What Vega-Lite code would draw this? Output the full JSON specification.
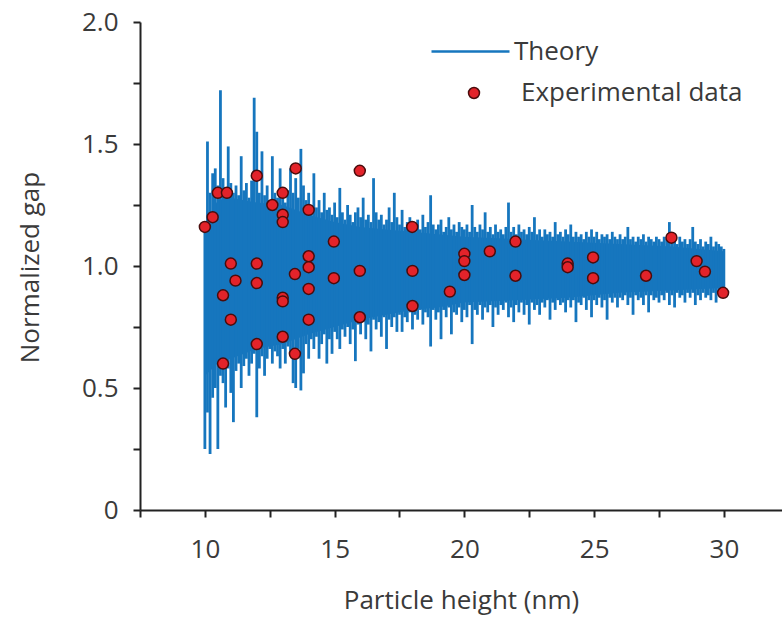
{
  "$schema": "https://vega.github.io/schema/vega-lite/v6.json",
  "autosize": {"type": "none"},
  "width": 642,
  "height": 488,
  "padding": {"left": 140, "top": 22, "right": 0, "bottom": 108},
  "background": "white",
  "config": {
    "view": {"stroke": null},
    "axis": {
      "domainColor": "#222222", "domainWidth": 2, "tickColor": "#222222", "tickWidth": 2, "tickSize": 7,
      "labelFont": "Open Sans", "labelFontSize": 26, "labelColor": "#3a3a3a",
      "titleFont": "Open Sans", "titleFontSize": 26, "titleFontWeight": "normal", "titleColor": "#3a3a3a",
      "grid": false, "labelOverlap": false, "labelFlush": false
    },
    "legend": {"labelFont": "Open Sans", "labelFontSize": 26, "labelColor": "#3a3a3a", "padding": 0, "labelLimit": 500}
  },
  "datasets": {
    "core": [
      {"x": 10.0, "lo": 0.55, "hi": 1.17}, {"x": 10.5, "lo": 0.60, "hi": 1.27}, {"x": 11, "lo": 0.62, "hi": 1.28},
      {"x": 12, "lo": 0.66, "hi": 1.26}, {"x": 13, "lo": 0.68, "hi": 1.25}, {"x": 14, "lo": 0.72, "hi": 1.21},
      {"x": 15, "lo": 0.75, "hi": 1.18}, {"x": 16, "lo": 0.78, "hi": 1.16}, {"x": 17, "lo": 0.80, "hi": 1.15},
      {"x": 18, "lo": 0.82, "hi": 1.14}, {"x": 19, "lo": 0.83, "hi": 1.13}, {"x": 20, "lo": 0.85, "hi": 1.12},
      {"x": 22, "lo": 0.86, "hi": 1.11}, {"x": 24, "lo": 0.87, "hi": 1.10}, {"x": 26, "lo": 0.89, "hi": 1.09},
      {"x": 28, "lo": 0.90, "hi": 1.08}, {"x": 30, "lo": 0.91, "hi": 1.06}
    ],
    "theory": [
      {"x":10.0,"lo":0.25,"hi":1.18},{"x":10.1,"lo":0.40,"hi":1.51},{"x":10.2,"lo":0.23,"hi":1.30},{"x":10.3,"lo":0.46,"hi":1.38},{"x":10.4,"lo":0.50,"hi":1.40},
      {"x":10.5,"lo":0.25,"hi":1.33},{"x":10.6,"lo":0.55,"hi":1.72},{"x":10.7,"lo":0.52,"hi":1.36},{"x":10.8,"lo":0.42,"hi":1.32},{"x":10.9,"lo":0.58,"hi":1.49},
      {"x":11.0,"lo":0.48,"hi":1.34},{"x":11.1,"lo":0.36,"hi":1.30},{"x":11.2,"lo":0.57,"hi":1.33},{"x":11.3,"lo":0.60,"hi":1.29},{"x":11.4,"lo":0.50,"hi":1.45},
      {"x":11.5,"lo":0.59,"hi":1.31},{"x":11.6,"lo":0.62,"hi":1.34},{"x":11.7,"lo":0.55,"hi":1.28},{"x":11.8,"lo":0.60,"hi":1.35},{"x":11.9,"lo":0.64,"hi":1.69},
      {"x":12.0,"lo":0.38,"hi":1.55},{"x":12.1,"lo":0.58,"hi":1.30},{"x":12.2,"lo":0.63,"hi":1.47},{"x":12.3,"lo":0.55,"hi":1.29},{"x":12.4,"lo":0.62,"hi":1.33},
      {"x":12.5,"lo":0.66,"hi":1.27},{"x":12.6,"lo":0.60,"hi":1.45},{"x":12.7,"lo":0.65,"hi":1.30},{"x":12.8,"lo":0.63,"hi":1.28},{"x":12.9,"lo":0.58,"hi":1.40},
      {"x":13.0,"lo":0.66,"hi":1.29},{"x":13.1,"lo":0.60,"hi":1.26},{"x":13.2,"lo":0.67,"hi":1.31},{"x":13.3,"lo":0.64,"hi":1.40},{"x":13.4,"lo":0.52,"hi":1.30},
      {"x":13.5,"lo":0.50,"hi":1.36},{"x":13.6,"lo":0.66,"hi":1.28},{"x":13.7,"lo":0.49,"hi":1.48},{"x":13.8,"lo":0.56,"hi":1.33},{"x":13.9,"lo":0.68,"hi":1.27},
      {"x":14.0,"lo":0.62,"hi":1.30},{"x":14.1,"lo":0.70,"hi":1.25},{"x":14.2,"lo":0.66,"hi":1.38},{"x":14.3,"lo":0.71,"hi":1.24},{"x":14.4,"lo":0.62,"hi":1.27},
      {"x":14.5,"lo":0.68,"hi":1.22},{"x":14.6,"lo":0.72,"hi":1.30},{"x":14.7,"lo":0.60,"hi":1.23},{"x":14.8,"lo":0.70,"hi":1.24},{"x":14.9,"lo":0.64,"hi":1.21},
      {"x":15.0,"lo":0.73,"hi":1.26},{"x":15.1,"lo":0.70,"hi":1.20},{"x":15.2,"lo":0.66,"hi":1.32},{"x":15.3,"lo":0.74,"hi":1.22},{"x":15.4,"lo":0.71,"hi":1.19},
      {"x":15.5,"lo":0.75,"hi":1.25},{"x":15.6,"lo":0.68,"hi":1.21},{"x":15.7,"lo":0.74,"hi":1.18},{"x":15.8,"lo":0.61,"hi":1.22},{"x":15.9,"lo":0.76,"hi":1.24},
      {"x":16.0,"lo":0.72,"hi":1.20},{"x":16.1,"lo":0.77,"hi":1.28},{"x":16.2,"lo":0.70,"hi":1.19},{"x":16.3,"lo":0.76,"hi":1.21},{"x":16.4,"lo":0.65,"hi":1.18},
      {"x":16.5,"lo":0.78,"hi":1.36},{"x":16.6,"lo":0.74,"hi":1.22},{"x":16.7,"lo":0.77,"hi":1.19},{"x":16.8,"lo":0.71,"hi":1.21},{"x":16.9,"lo":0.79,"hi":1.17},
      {"x":17.0,"lo":0.66,"hi":1.19},{"x":17.1,"lo":0.78,"hi":1.24},{"x":17.2,"lo":0.75,"hi":1.18},{"x":17.3,"lo":0.79,"hi":1.30},{"x":17.4,"lo":0.73,"hi":1.20},
      {"x":17.5,"lo":0.80,"hi":1.17},{"x":17.6,"lo":0.73,"hi":1.23},{"x":17.7,"lo":0.79,"hi":1.16},{"x":17.8,"lo":0.77,"hi":1.18},{"x":17.9,"lo":0.81,"hi":1.20},
      {"x":18.0,"lo":0.74,"hi":1.16},{"x":18.1,"lo":0.80,"hi":1.17},{"x":18.2,"lo":0.78,"hi":1.19},{"x":18.3,"lo":0.82,"hi":1.15},{"x":18.4,"lo":0.76,"hi":1.21},
      {"x":18.5,"lo":0.81,"hi":1.16},{"x":18.6,"lo":0.79,"hi":1.18},{"x":18.7,"lo":0.67,"hi":1.29},{"x":18.8,"lo":0.82,"hi":1.17},{"x":18.9,"lo":0.78,"hi":1.15},
      {"x":19.0,"lo":0.81,"hi":1.17},{"x":19.1,"lo":0.70,"hi":1.19},{"x":19.2,"lo":0.82,"hi":1.14},{"x":19.3,"lo":0.79,"hi":1.16},{"x":19.4,"lo":0.83,"hi":1.20},
      {"x":19.5,"lo":0.72,"hi":1.15},{"x":19.6,"lo":0.81,"hi":1.17},{"x":19.7,"lo":0.80,"hi":1.14},{"x":19.8,"lo":0.83,"hi":1.18},{"x":19.9,"lo":0.77,"hi":1.16},
      {"x":20.0,"lo":0.82,"hi":1.15},{"x":20.1,"lo":0.79,"hi":1.17},{"x":20.2,"lo":0.84,"hi":1.14},{"x":20.3,"lo":0.68,"hi":1.25},{"x":20.4,"lo":0.82,"hi":1.16},
      {"x":20.5,"lo":0.80,"hi":1.14},{"x":20.6,"lo":0.84,"hi":1.17},{"x":20.7,"lo":0.78,"hi":1.15},{"x":20.8,"lo":0.83,"hi":1.22},{"x":20.9,"lo":0.81,"hi":1.14},
      {"x":21.0,"lo":0.84,"hi":1.16},{"x":21.1,"lo":0.75,"hi":1.13},{"x":21.2,"lo":0.83,"hi":1.17},{"x":21.3,"lo":0.80,"hi":1.14},{"x":21.4,"lo":0.84,"hi":1.15},
      {"x":21.5,"lo":0.82,"hi":1.13},{"x":21.6,"lo":0.85,"hi":1.16},{"x":21.7,"lo":0.79,"hi":1.26},{"x":21.8,"lo":0.83,"hi":1.14},{"x":21.9,"lo":0.77,"hi":1.16},
      {"x":22.0,"lo":0.84,"hi":1.13},{"x":22.1,"lo":0.81,"hi":1.17},{"x":22.2,"lo":0.85,"hi":1.14},{"x":22.3,"lo":0.80,"hi":1.15},{"x":22.4,"lo":0.84,"hi":1.13},
      {"x":22.5,"lo":0.76,"hi":1.16},{"x":22.6,"lo":0.85,"hi":1.14},{"x":22.7,"lo":0.82,"hi":1.20},{"x":22.8,"lo":0.84,"hi":1.13},{"x":22.9,"lo":0.80,"hi":1.15},
      {"x":23.0,"lo":0.85,"hi":1.12},{"x":23.1,"lo":0.83,"hi":1.15},{"x":23.2,"lo":0.86,"hi":1.13},{"x":23.3,"lo":0.78,"hi":1.14},{"x":23.4,"lo":0.85,"hi":1.12},
      {"x":23.5,"lo":0.82,"hi":1.18},{"x":23.6,"lo":0.86,"hi":1.13},{"x":23.7,"lo":0.84,"hi":1.14},{"x":23.8,"lo":0.85,"hi":1.12},{"x":23.9,"lo":0.81,"hi":1.15},
      {"x":24.0,"lo":0.86,"hi":1.13},{"x":24.1,"lo":0.83,"hi":1.17},{"x":24.2,"lo":0.86,"hi":1.12},{"x":24.3,"lo":0.77,"hi":1.14},{"x":24.4,"lo":0.85,"hi":1.12},
      {"x":24.5,"lo":0.84,"hi":1.13},{"x":24.6,"lo":0.87,"hi":1.11},{"x":24.7,"lo":0.82,"hi":1.14},{"x":24.8,"lo":0.86,"hi":1.12},{"x":24.9,"lo":0.79,"hi":1.15},
      {"x":25.0,"lo":0.86,"hi":1.12},{"x":25.1,"lo":0.84,"hi":1.14},{"x":25.2,"lo":0.87,"hi":1.11},{"x":25.3,"lo":0.83,"hi":1.13},{"x":25.4,"lo":0.86,"hi":1.12},
      {"x":25.5,"lo":0.78,"hi":1.13},{"x":25.6,"lo":0.87,"hi":1.11},{"x":25.7,"lo":0.85,"hi":1.14},{"x":25.8,"lo":0.87,"hi":1.12},{"x":25.9,"lo":0.83,"hi":1.11},
      {"x":26.0,"lo":0.87,"hi":1.13},{"x":26.1,"lo":0.86,"hi":1.11},{"x":26.2,"lo":0.88,"hi":1.12},{"x":26.3,"lo":0.84,"hi":1.16},{"x":26.4,"lo":0.87,"hi":1.11},
      {"x":26.5,"lo":0.80,"hi":1.12},{"x":26.6,"lo":0.88,"hi":1.10},{"x":26.7,"lo":0.86,"hi":1.12},{"x":26.8,"lo":0.87,"hi":1.11},{"x":26.9,"lo":0.84,"hi":1.13},
      {"x":27.0,"lo":0.88,"hi":1.10},{"x":27.1,"lo":0.81,"hi":1.12},{"x":27.2,"lo":0.88,"hi":1.11},{"x":27.3,"lo":0.86,"hi":1.10},{"x":27.4,"lo":0.87,"hi":1.12},
      {"x":27.5,"lo":0.85,"hi":1.11},{"x":27.6,"lo":0.88,"hi":1.10},{"x":27.7,"lo":0.86,"hi":1.12},{"x":27.8,"lo":0.89,"hi":1.11},{"x":27.9,"lo":0.84,"hi":1.18},
      {"x":28.0,"lo":0.88,"hi":1.10},{"x":28.1,"lo":0.83,"hi":1.11},{"x":28.2,"lo":0.89,"hi":1.09},{"x":28.3,"lo":0.87,"hi":1.12},{"x":28.4,"lo":0.88,"hi":1.10},
      {"x":28.5,"lo":0.85,"hi":1.11},{"x":28.6,"lo":0.89,"hi":1.09},{"x":28.7,"lo":0.87,"hi":1.11},{"x":28.8,"lo":0.89,"hi":1.16},{"x":28.9,"lo":0.84,"hi":1.10},
      {"x":29.0,"lo":0.88,"hi":1.09},{"x":29.1,"lo":0.86,"hi":1.11},{"x":29.2,"lo":0.89,"hi":1.08},{"x":29.3,"lo":0.87,"hi":1.10},{"x":29.4,"lo":0.88,"hi":1.09},
      {"x":29.5,"lo":0.86,"hi":1.12},{"x":29.6,"lo":0.89,"hi":1.08},{"x":29.7,"lo":0.85,"hi":1.10},{"x":29.8,"lo":0.89,"hi":1.09},{"x":29.9,"lo":0.87,"hi":1.08},
      {"x":30.0,"lo":0.90,"hi":1.07}
    ],
    "exp": [
      {"x":10.0,"y":1.16},{"x":10.3,"y":1.20},{"x":10.5,"y":1.30},{"x":10.85,"y":1.30},{"x":12.0,"y":1.37},{"x":13.5,"y":1.40},
      {"x":13.0,"y":1.30},{"x":12.6,"y":1.25},{"x":13.0,"y":1.21},{"x":13.0,"y":1.18},{"x":14.0,"y":1.23},{"x":11.0,"y":1.01},
      {"x":12.0,"y":1.01},{"x":14.0,"y":1.04},{"x":14.0,"y":0.995},{"x":13.47,"y":0.967},{"x":11.18,"y":0.94},{"x":12.0,"y":0.93},
      {"x":10.7,"y":0.88},{"x":13.0,"y":0.87},{"x":13.0,"y":0.855},{"x":14.0,"y":0.906},{"x":11.0,"y":0.78},{"x":14.0,"y":0.78},
      {"x":13.0,"y":0.71},{"x":12.0,"y":0.68},{"x":13.47,"y":0.64},{"x":10.7,"y":0.60},
      {"x":15.97,"y":1.39},{"x":14.97,"y":1.10},{"x":15.97,"y":0.98},{"x":14.97,"y":0.95},{"x":15.97,"y":0.79},
      {"x":17.99,"y":1.16},{"x":18.0,"y":0.98},{"x":18.0,"y":0.836},{"x":19.44,"y":0.895},
      {"x":20.0,"y":1.05},{"x":20.0,"y":1.02},{"x":20.0,"y":0.963},{"x":20.98,"y":1.06},{"x":21.97,"y":1.10},{"x":21.97,"y":0.96},
      {"x":23.98,"y":1.01},{"x":23.98,"y":0.995},{"x":24.96,"y":1.035},{"x":24.96,"y":0.95},
      {"x":27.0,"y":0.96},{"x":27.98,"y":1.116},{"x":28.95,"y":1.02},{"x":29.27,"y":0.977},{"x":29.97,"y":0.89}
    ]
  },
  "layer": [
    {
      "data": {"name": "core"},
      "mark": {"type": "area", "color": "#1676be", "opacity": 1},
      "encoding": {
        "x": {
          "field": "x", "type": "quantitative",
          "scale": {"domain": [7.5, 32.24], "nice": false, "zero": false},
          "axis": {
            "title": "Particle height (nm)",
            "values": [7.5, 10, 12.5, 15, 17.5, 20, 22.5, 25, 27.5, 30],
            "labelExpr": "datum.value % 5 === 0 ? datum.label : ''",
            "labelBaseline": "alphabetic", "labelPadding": 40,
            "titleBaseline": "alphabetic", "titleY": 98
          }
        },
        "y": {
          "field": "lo", "type": "quantitative",
          "scale": {"domain": [0, 2], "nice": false},
          "axis": {
            "title": "Normalized gap",
            "values": [0, 0.25, 0.5, 0.75, 1, 1.25, 1.5, 1.75, 2],
            "labelExpr": "datum.value === 0 ? '0' : ((datum.value * 2) % 1 === 0 ? format(datum.value, '.1f') : '')",
            "labelPadding": 15,
            "titleBaseline": "alphabetic", "titleX": -102, "titleY": 245, "titleAngle": 270, "titleAlign": "center"
          }
        },
        "y2": {"field": "hi"}
      }
    },
    {
      "data": {"name": "theory"},
      "mark": {"type": "rule", "strokeWidth": 2.8},
      "encoding": {
        "x": {"field": "x", "type": "quantitative"},
        "y": {"field": "lo", "type": "quantitative"},
        "y2": {"field": "hi"},
        "stroke": {
          "datum": "Theory", "type": "nominal",
          "scale": {"domain": ["Theory"], "range": ["#1676be"]},
          "legend": {
            "title": null, "orient": "none", "legendX": 290, "legendY": -11,
            "symbolType": "stroke", "symbolSize": 6084, "symbolStrokeWidth": 2.5,
            "labelOffset": 3
          }
        }
      }
    },
    {
      "data": {"name": "exp"},
      "mark": {"type": "point", "filled": true, "size": 120, "stroke": "#4a0c0c", "strokeWidth": 1.5, "opacity": 1},
      "encoding": {
        "x": {"field": "x", "type": "quantitative"},
        "y": {"field": "y", "type": "quantitative"},
        "fill": {
          "datum": "Experimental data", "type": "nominal",
          "scale": {"domain": ["Experimental data"], "range": ["#e3232a"]},
          "legend": {
            "title": null, "orient": "none", "legendX": 321, "legendY": 58,
            "symbolType": "circle", "symbolSize": 120, "symbolStrokeColor": "#4a0c0c", "symbolStrokeWidth": 1.5,
            "symbolOpacity": 1, "labelOffset": 34
          }
        }
      }
    },
    {
      "mark": {"type": "rule", "color": "#333333", "strokeWidth": 2},
      "encoding": {"y": {"datum": 2}}
    }
  ]
}
